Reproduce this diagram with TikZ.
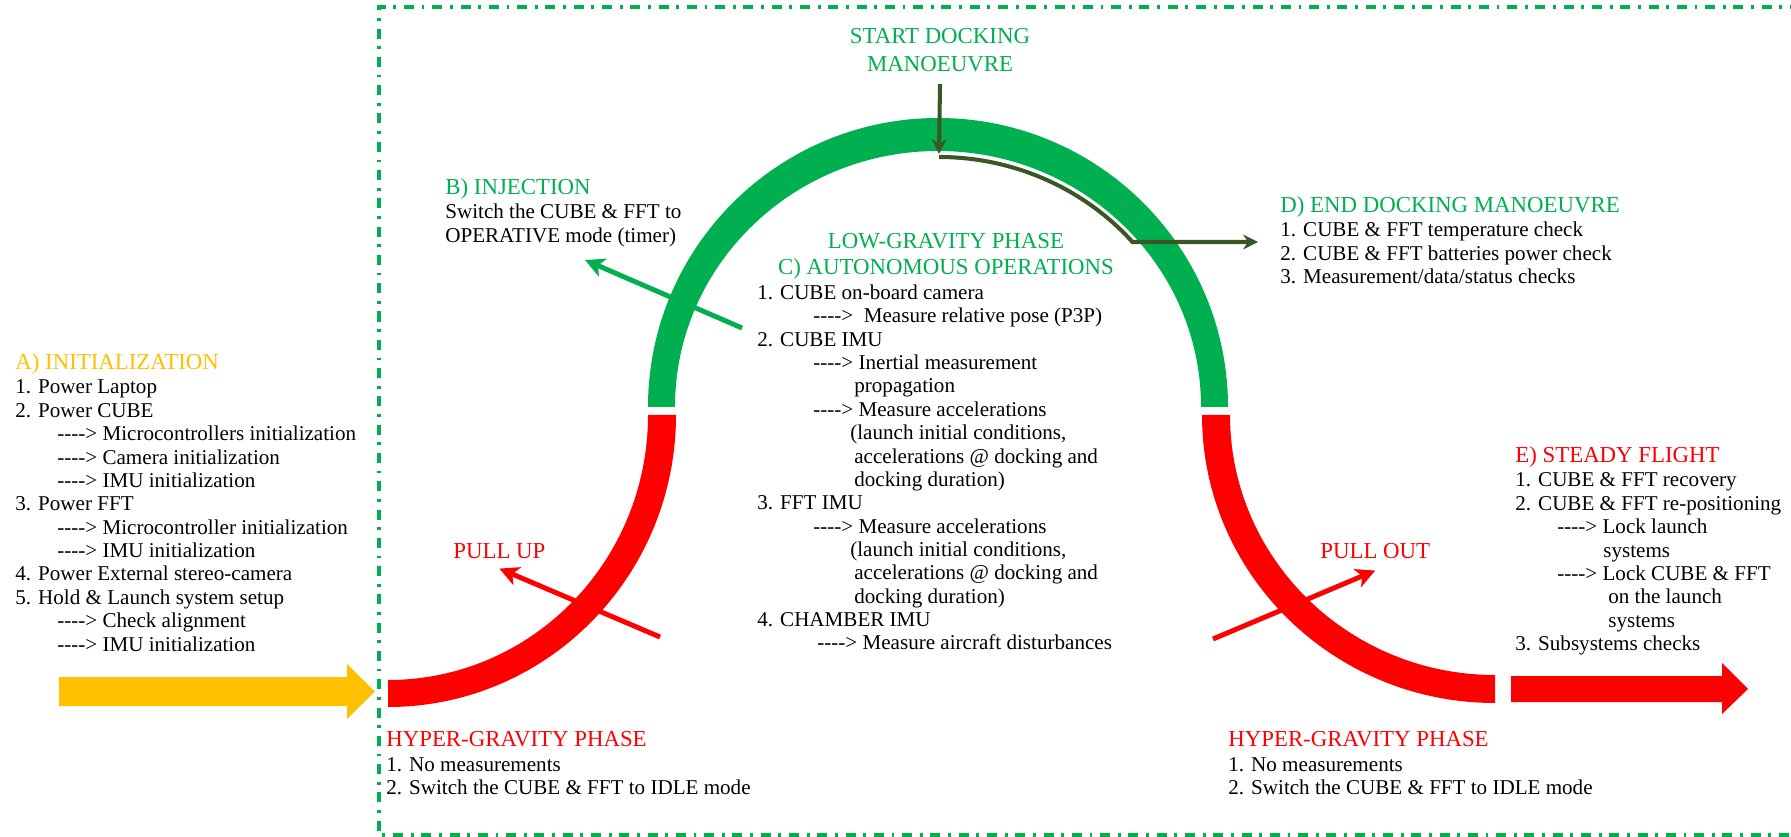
\documentclass[tikz,border=0pt]{standalone}
\usepackage{fontspec}
\setmainfont{Liberation Serif}
\usetikzlibrary{arrows.meta}

\definecolor{phasegreen}{HTML}{00B050}
\definecolor{phasered}{HTML}{FF0000}
\definecolor{phaseamber}{HTML}{FFC000}
\definecolor{dockgreen}{HTML}{385723}

% one unit of the drawing
\newlength\pix
\setlength\pix{0.02cm}
\newcommand\phasehead{\fontsize{13}{13.3}\selectfont}
% indented "---->" sub item
\newcommand\darr[1][42]{\hspace*{#1\pix}-{}-{}-{}->\ }

\tikzset{
  txt/.style={inner sep=0pt, align=left, anchor=north west, font=\fontsize{12}{13.3}\selectfont},
  ttl/.style={inner sep=0pt, align=center, anchor=north, font=\fontsize{13}{14.7}\selectfont},
  thin arrow/.style={line width=2.8pt, -{Stealth[length=11pt,width=11pt,inset=3pt]}},
  dock arrow/.style={dockgreen, line width=2.3pt, -{Stealth[length=8.5pt,width=8.5pt]}},
}

\begin{document}
\begin{tikzpicture}[x=0.02cm, y=-0.02cm]
    \useasboundingbox (0,0) rectangle (1791,837);

    % frame round the flight
    \draw [phasegreen, line width=2pt, dash pattern=on 5.7pt off 4.4pt on 1.6pt off 4.4pt]
        (1800,7) -- (379,7) -- (379,835) -- (1800,835);

    % low-gravity arch and the two hyper-gravity quarters
    \fill [phasegreen] (648,407)
        arc [start angle=180, end angle=360, x radius=290, y radius=289]
        -- (1201,407)
        arc [start angle=360, end angle=180, x radius=263, y radius=256]
        -- cycle;
    \fill [phasered] (676,415)
        arc [start angle=0, end angle=90, x radius=288, y radius=292]
        -- (388,680)
        arc [start angle=90, end angle=0, x radius=260, y radius=265]
        -- cycle;
    \fill [phasered] (1202,415)
        arc [start angle=180, end angle=90, x radius=293, y radius=288]
        -- (1495,675)
        arc [start angle=90, end angle=180, x radius=265, y radius=260]
        -- cycle;

    % block arrows in and out
    \fill [phaseamber] (59,677) -- (347,677) -- (347,664) -- (375,691.5)
        -- (347,719) -- (347,706) -- (59,706) -- cycle;
    \fill [phasered] (1511,676) -- (1722,676) -- (1722,663) -- (1748,689)
        -- (1722,714) -- (1722,702) -- (1511,702) -- cycle;

    \node [txt] (init) at (15,353) {
        {\phasehead\color{phaseamber}A) INITIALIZATION}\\[0.8pt]
        1. Power Laptop\\
        2. Power CUBE\\
        \darr Microcontrollers initialization\\
        \darr Camera initialization\\
        \darr IMU initialization\\
        3. Power FFT\\
        \darr Microcontroller initialization\\
        \darr IMU initialization\\
        4. Power External stereo-camera\\
        5. Hold \& Launch system setup\\
        \darr Check alignment\\
        \darr IMU initialization};

    \node [txt] (inject) at (445,178) {
        {\phasehead\color{phasegreen}B) INJECTION}\\[0.8pt]
        Switch the CUBE \& FFT to\\
        OPERATIVE mode (timer)};

    \node [ttl, phasegreen] (dock) at (940,28) {START DOCKING\\[1.2pt]MANOEUVRE};
    \node [ttl, phasegreen] (lowg) at (946,233) {LOW-GRAVITY PHASE\\C) AUTONOMOUS OPERATIONS};

    \node [txt] (auto) at (757,284.5) {
        1. CUBE on-board camera\\
        \darr[56]\ Measure relative pose (P3P)\\
        2. CUBE IMU\\
        \darr[56]Inertial measurement\\
        \hspace*{97\pix}propagation\\
        \darr[56]Measure accelerations\\
        \hspace*{93\pix}(launch initial conditions,\\
        \hspace*{97\pix}accelerations @ docking and\\
        \hspace*{97\pix}docking duration)\\
        3. FFT IMU\\
        \darr[56]Measure accelerations\\
        \hspace*{93\pix}(launch initial conditions,\\
        \hspace*{97\pix}accelerations @ docking and\\
        \hspace*{97\pix}docking duration)\\
        4. CHAMBER IMU\\
        \darr[60]Measure aircraft disturbances};

    \node [txt] (enddock) at (1280,196) {
        {\phasehead\color{phasegreen}D) END DOCKING MANOEUVRE}\\[0.8pt]
        1. CUBE \& FFT temperature check\\
        2. CUBE \& FFT batteries power check\\
        3. Measurement/data/status checks};

    \node [txt] (steady) at (1515,446) {
        {\phasehead\color{phasered}E) STEADY FLIGHT}\\[0.8pt]
        1. CUBE \& FFT recovery\\
        2. CUBE \& FFT re-positioning\\
        \darr Lock launch\\
        \hspace*{88\pix}systems\\
        \darr Lock CUBE \& FFT\\
        \hspace*{93\pix}on the launch\\
        \hspace*{93\pix}systems\\
        3. Subsystems checks};

    \node [txt] (hyperl) at (386,731) {
        {\phasehead\color{phasered}HYPER-GRAVITY PHASE}\\[0.8pt]
        1. No measurements\\
        2. Switch the CUBE \& FFT to IDLE mode};
    \node [txt] (hyperr) at (1228,731) {
        {\phasehead\color{phasered}HYPER-GRAVITY PHASE}\\[0.8pt]
        1. No measurements\\
        2. Switch the CUBE \& FFT to IDLE mode};

    \node [inner sep=0pt, anchor=base west, font=\phasehead, phasered] (pullup) at (453,558) {PULL UP};
    \node [inner sep=0pt, anchor=base west, font=\phasehead, phasered] (pullout) at (1320,558) {PULL OUT};

    % pointers out of the arcs
    \coordinate (injfoot) at (742,328);
    \coordinate (injtip) at (585,260);
    \coordinate (upfoot) at (660,637);
    \coordinate (outfoot) at (1213,639);
    \draw [thin arrow, phasegreen] (injfoot) -- (injtip);
    \draw [thin arrow, phasered] (upfoot) -- ([yshift=-10\pix]pullup.south);
    \draw [thin arrow, phasered] (outfoot) -- ([yshift=-12\pix]pullout.south);

    % docking manoeuvre along the arch
    \coordinate (apex) at (939,157);
    \coordinate (release) at (1258,242);
    \draw [dock arrow] ([yshift=-12\pix]dock.south) -- ([yshift=3\pix]apex);
    \draw [white, line width=4.2pt] (apex)
        arc [start angle=270, end angle=318.6, x radius=258, y radius=251];
    \draw [dock arrow] (apex)
        arc [start angle=270, end angle=318.6, x radius=258, y radius=251]
        -- (release);
\end{tikzpicture}
\end{document}
